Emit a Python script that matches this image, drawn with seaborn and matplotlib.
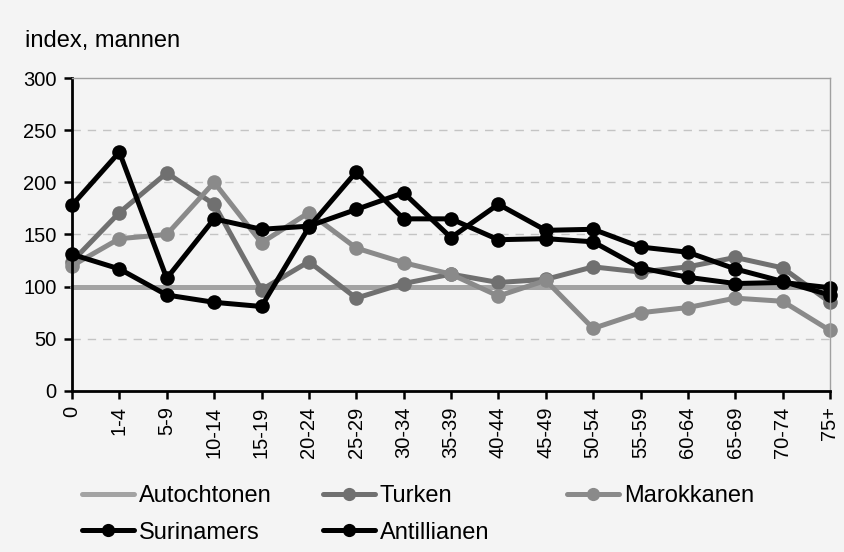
import numpy as np
import pandas as pd
import matplotlib.pyplot as plt
import seaborn as sns

# age groups on the x axis
leeftijd = ['0', '1-4', '5-9', '10-14', '15-19', '20-24', '25-29', '30-34', '35-39',
            '40-44', '45-49', '50-54', '55-59', '60-64', '65-69', '70-74', '75+']

# index values
autochtonen = [100] * 17
turken = [124, 171, 209, 179, 97, 124, 89, 103, 112, 104, 107, 119, 114, 119, 128, 118, 85]
marokkanen = [120, 146, 150, 200, 142, 171, 137, 123, 112, 91, 106, 60, 75, 80, 89, 86, 58]
surinamers = [178, 229, 108, 165, 155, 158, 174, 190, 147, 179, 154, 155, 138, 133, 117, 105, 92]
antillianen = [131, 117, 92, 85, 81, 157, 210, 165, 165, 145, 146, 143, 118, 109, 103, 104, 99]

reeksen = {
    'Autochtonen': (autochtonen, '#a3a3a3', None),
    'Turken': (turken, '#707070', 'o'),
    'Marokkanen': (marokkanen, '#8a8a8a', 'o'),
    'Surinamers': (surinamers, '#000000', 'o'),
    'Antillianen': (antillianen, '#000000', 'o'),
}

sns.set_theme(style='white')
plt.rcParams['font.family'] = ['Liberation Sans', 'DejaVu Sans']
plt.rcParams['text.color'] = 'black'

fig = plt.figure(figsize=(8.44, 5.52), dpi=100, facecolor='#f4f4f4')
ax = fig.add_axes([72 / 844, 1 - 391 / 552, (830 - 72) / 844, (391 - 78) / 552])
ax.set_facecolor('#f4f4f4')

x = np.arange(len(leeftijd))
handles = {}
for naam, (waarden, kleur, marker) in reeksen.items():
    df = pd.DataFrame({'x': x, 'y': waarden})
    sns.lineplot(data=df, x='x', y='y', ax=ax, color=kleur, lw=3.6,
                 marker=marker, markersize=10.5, markeredgecolor=kleur,
                 markeredgewidth=0, label=naam, clip_on=False)
    handles[naam] = ax.lines[-1]
ax.get_legend().remove()

ax.set_xlim(0, 16)
ax.set_ylim(0, 300)
ax.set_yticks(range(0, 301, 50))
ax.set_xticks(x)
ax.set_xticklabels(leeftijd, rotation=90)
ax.set_xlabel('')
ax.set_ylabel('')
ax.tick_params(axis='both', labelsize=14.5, length=6, width=1.8, color='black',
               labelcolor='black', direction='out', bottom=True, left=True)
ax.tick_params(axis='x', pad=5)
ax.tick_params(axis='y', pad=5)

for y in [50, 100, 150, 200, 250]:
    ax.axhline(y, color='#c4c4c4', lw=1, ls=(0, (6, 5)), zorder=0)

for s in ['left', 'bottom']:
    ax.spines[s].set_color('black')
    ax.spines[s].set_linewidth(2)
for s in ['top', 'right']:
    ax.spines[s].set_color('#a0a0a0')
    ax.spines[s].set_linewidth(1)

fig.text(25 / 844, 1 - 41 / 552, 'index, mannen', fontsize=17, va='center', ha='left')

# legend in three columns, like the original
kolommen = [(['Autochtonen', 'Surinamers'], 82), (['Turken', 'Antillianen'], 323),
            (['Marokkanen'], 567)]
for namen, xpos in kolommen:
    leg = fig.legend([handles[n] for n in namen], namen, loc='upper left',
                     bbox_to_anchor=(xpos / 844, 1 - 485 / 552), frameon=False,
                     fontsize=17, handlelength=2.2, handletextpad=0.2,
                     labelspacing=0.62, borderpad=0, borderaxespad=0)
    for h in leg.legend_handles:
        h.set_markersize(9.5)

fig.savefig('out.png', dpi=100, facecolor=fig.get_facecolor())
